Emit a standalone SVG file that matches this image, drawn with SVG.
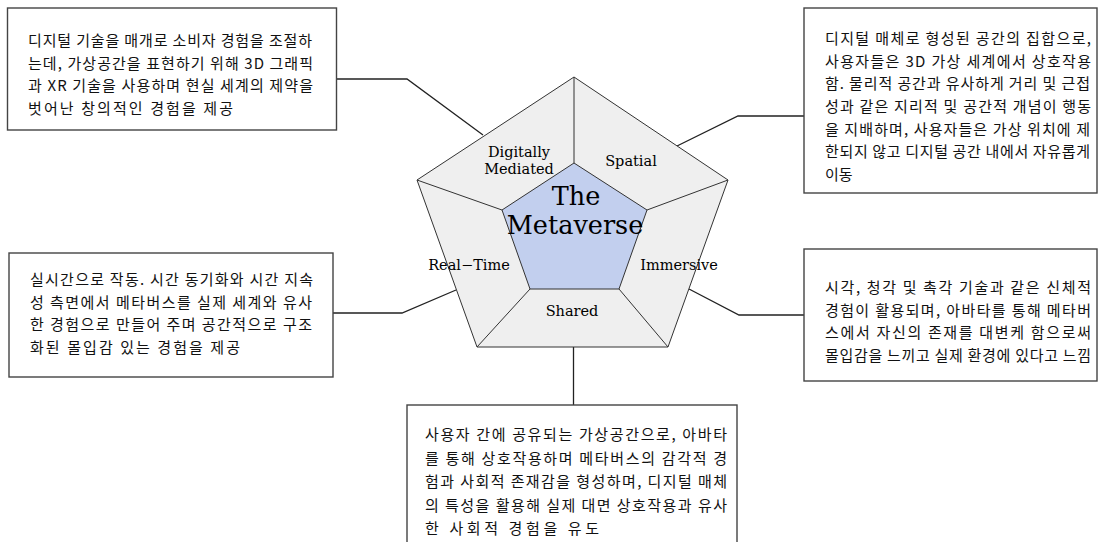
<svg xmlns="http://www.w3.org/2000/svg" width="1103" height="542" viewBox="0 0 1103 542">
<style>
.box{fill:#fff;stroke:#444;stroke-width:1.4}
.kt{font-family:"Noto Sans CJK KR","Noto Sans",sans-serif;font-size:15px;fill:#111}
.lab{font-family:"DejaVu Serif","Liberation Serif",serif;font-size:14.5px;fill:#000;text-anchor:middle}
.title{font-family:"DejaVu Serif","Liberation Serif",serif;font-size:25.5px;fill:#000;text-anchor:middle}
.con{fill:none;stroke:#222;stroke-width:1.3}
.outer{fill:#efefef;stroke:#333;stroke-width:1}
.inner{fill:#c2cfee;stroke:#333;stroke-width:1}
.spoke{stroke:#333;stroke-width:1;fill:none}
</style>
<g id="connectors">
<polyline class="con" points="336,79 407,79 483,135"/>
<polyline class="con" points="804,116 738,116 677,146"/>
<polyline class="con" points="333,313 402,313 456,290"/>
<polyline class="con" points="804,315 739,315 689,289"/>
<polyline class="con" points="573.5,347 573.5,405"/>
</g>
<g id="pentagon">
<polygon class="outer" points="574,77 728,180 668,347 477,347 417,180"/>
<polygon class="inner" points="574,163 647,210 619,289 530,289 502,210"/>
<line class="spoke" x1="574" y1="163" x2="574" y2="77"/>
<line class="spoke" x1="502" y1="210" x2="417" y2="180"/>
<line class="spoke" x1="647" y1="210" x2="728" y2="180"/>
<line class="spoke" x1="530" y1="289" x2="477" y2="347"/>
<line class="spoke" x1="619" y1="289" x2="668" y2="347"/>
<text class="lab" x="519" y="157">Digitally</text>
<text class="lab" x="519" y="174">Mediated</text>
<text class="lab" x="631" y="166">Spatial</text>
<text class="lab" x="469" y="270">Real−Time</text>
<text class="lab" x="679" y="270">Immersive</text>
<text class="lab" x="572" y="316">Shared</text>
<text class="title" x="576" y="205">The</text>
<text class="title" x="575" y="234">Metaverse</text>
</g>
<g id="box-digitally-mediated">
<rect class="box" x="7.5" y="8" width="329" height="122"/>
<text class="kt" x="28" y="46" textLength="284" lengthAdjust="spacing">디지털 기술을 매개로 소비자 경험을 조절하</text>
<text class="kt" x="28" y="68.5" textLength="285" lengthAdjust="spacing">는데, 가상공간을 표현하기 위해 3D 그래픽</text>
<text class="kt" x="28" y="91" textLength="285" lengthAdjust="spacing">과 XR 기술을 사용하며 현실 세계의 제약을</text>
<text class="kt" x="28" y="113.5" textLength="205" lengthAdjust="spacing">벗어난 창의적인 경험을 제공</text>
</g>
<g id="box-spatial">
<rect class="box" x="804" y="8" width="293" height="185"/>
<text class="kt" x="825" y="44" textLength="266" lengthAdjust="spacing">디지털 매체로 형성된 공간의 집합으로,</text>
<text class="kt" x="825" y="66.7" textLength="266" lengthAdjust="spacing">사용자들은 3D 가상 세계에서 상호작용</text>
<text class="kt" x="825" y="89.3" textLength="265" lengthAdjust="spacing">함. 물리적 공간과 유사하게 거리 및 근접</text>
<text class="kt" x="825" y="112" textLength="266" lengthAdjust="spacing">성과 같은 지리적 및 공간적 개념이 행동</text>
<text class="kt" x="825" y="134.7" textLength="265" lengthAdjust="spacing">을 지배하며, 사용자들은 가상 위치에 제</text>
<text class="kt" x="825" y="157.3" textLength="265" lengthAdjust="spacing">한되지 않고 디지털 공간 내에서 자유롭게</text>
<text class="kt" x="825" y="180">이동</text>
</g>
<g id="box-real-time">
<rect class="box" x="9" y="253" width="324" height="124"/>
<text class="kt" x="30" y="285" textLength="283" lengthAdjust="spacing">실시간으로 작동. 시간 동기화와 시간 지속</text>
<text class="kt" x="30" y="307.7" textLength="282" lengthAdjust="spacing">성 측면에서 메타버스를 실제 세계와 유사</text>
<text class="kt" x="30" y="330.3" textLength="282" lengthAdjust="spacing">한 경험으로 만들어 주며 공간적으로 구조</text>
<text class="kt" x="30" y="353" textLength="210" lengthAdjust="spacing">화된 몰입감 있는 경험을 제공</text>
</g>
<g id="box-immersive">
<rect class="box" x="804" y="249" width="293" height="132"/>
<text class="kt" x="825" y="293" textLength="266" lengthAdjust="spacing">시각, 청각 및 촉각 기술과 같은 신체적</text>
<text class="kt" x="825" y="315.5" textLength="266" lengthAdjust="spacing">경험이 활용되며, 아바타를 통해 메타버</text>
<text class="kt" x="825" y="338" textLength="266" lengthAdjust="spacing">스에서 자신의 존재를 대변케 함으로써</text>
<text class="kt" x="825" y="360.5" textLength="266" lengthAdjust="spacing">몰입감을 느끼고 실제 환경에 있다고 느낌</text>
</g>
<g id="box-shared">
<rect class="box" x="407" y="405" width="330" height="150"/>
<text class="kt" x="425" y="440" textLength="302" lengthAdjust="spacing">사용자 간에 공유되는 가상공간으로, 아바타</text>
<text class="kt" x="425" y="463.5" textLength="302" lengthAdjust="spacing">를 통해 상호작용하며 메타버스의 감각적 경</text>
<text class="kt" x="425" y="487" textLength="302" lengthAdjust="spacing">험과 사회적 존재감을 형성하며, 디지털 매체</text>
<text class="kt" x="425" y="510.5" textLength="302" lengthAdjust="spacing">의 특성을 활용해 실제 대면 상호작용과 유사</text>
<text class="kt" x="425" y="534" textLength="174" lengthAdjust="spacing">한 사회적 경험을 유도</text>
</g>
</svg>
